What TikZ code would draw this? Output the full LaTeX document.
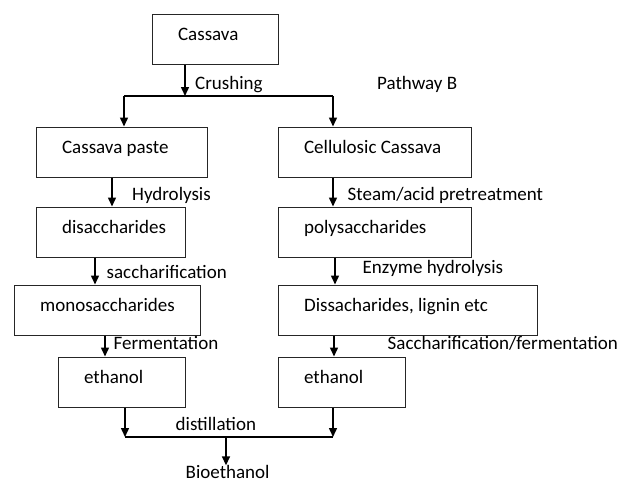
\documentclass[tikz,border=0pt]{standalone}
\usepackage{fontspec}
\setmainfont{Carlito}
\usetikzlibrary{arrows.meta}

\begin{document}
\begin{tikzpicture}[x=1pt,y=-1pt,font=\fontsize{19}{22}\selectfont,
	box/.style={draw=black!85,line width=1.2pt,anchor=north west,inner xsep=0,inner ysep=0,text height=26pt,text depth=24pt,align=flush left,execute at begin node=\hspace*{25.5pt}},
	lbl/.style={anchor=base west,inner sep=0},
	line/.style={line width=1.5pt},
	arr/.style={line width=1.5pt,-{Triangle[length=9pt,width=8pt]}}]
	\useasboundingbox (0,0) rectangle (622,482);
	\node[box,text width=126pt] (cassava) at (152,14) {Cassava};
	\node[box,text width=171pt] (paste) at (36,126.5) {Cassava paste};
	\node[box,text width=193pt] (cellulosic) at (278,126.5) {Cellulosic Cassava};
	\node[box,text width=149pt] (disacc) at (36,206.5) {disaccharides};
	\node[box,text width=193pt] (polysacc) at (278,206.5) {polysaccharides};
	\node[box,text width=186pt] (monosacc) at (14,284.5) {monosaccharides};
	\node[box,text width=259pt] (dissacc) at (278,284.5) {Dissacharides, lignin etc};
	\node[box,text width=127pt] (ethanolA) at (58,356.5) {ethanol};
	\node[box,text width=127pt] (ethanolB) at (278,356.5) {ethanol};
	\node[lbl,text height=12.5pt,text depth=0pt] (bioethanol) at (185.5,478) {Bioethanol};
	\node[lbl] (crushing) at (195,89) {Crushing};
	\node[lbl] (pathwayB) at (377,89) {Pathway B};
	\node[lbl] (hydrolysis) at (132,200.7) {Hydrolysis};
	\node[lbl] (steam) at (347.5,200.7) {Steam/acid pretreatment};
	\node[lbl] (saccharification) at (106.5,278) {saccharification};
	\node[lbl] (enzyme) at (362.5,273) {Enzyme hydrolysis};
	\node[lbl] (fermentation) at (113.5,349) {Fermentation};
	\node[lbl] (saccferm) at (387.5,349) {Saccharification/fermentation};
	\node[lbl] (distillation) at (175.5,430) {distillation};
	\coordinate (split) at (185,96);
	\coordinate (splitA) at (124,96);
	\coordinate (splitB) at (333,96);
	\coordinate (joinA) at (125,437);
	\coordinate (joinB) at (333,437);
	\coordinate (join) at (226,437);
	\draw[arr] (cassava.south -| split) -- (split);
	\draw[line] (splitA) -- (splitB);
	\draw[arr] (splitA) -- (splitA |- paste.north);
	\draw[arr] (splitB) -- (splitB |- cellulosic.north);
	\draw[arr] ([xshift=76pt]paste.south west) -- ([xshift=76pt]paste.south west |- disacc.north);
	\draw[arr] ([xshift=55pt]cellulosic.south west) -- ([xshift=55pt]cellulosic.south west |- polysacc.north);
	\draw[arr] ([xshift=59pt]disacc.south west) -- ([xshift=59pt]disacc.south west |- monosacc.north);
	\draw[arr] ([xshift=57pt]polysacc.south west) -- ([xshift=57pt]polysacc.south west |- dissacc.north);
	\draw[arr] ([xshift=91pt]monosacc.south west) -- ([xshift=91pt]monosacc.south west |- ethanolA.north);
	\draw[arr] ([xshift=56pt]dissacc.south west) -- ([xshift=56pt]dissacc.south west |- ethanolB.north);
	\draw[arr] (ethanolA.south -| joinA) -- (joinA);
	\draw[arr] (ethanolB.south -| joinB) -- (joinB);
	\draw[line] (joinA) -- (joinB);
	\draw[arr] (join) -- (join |- bioethanol.north);
\end{tikzpicture}
\end{document}
